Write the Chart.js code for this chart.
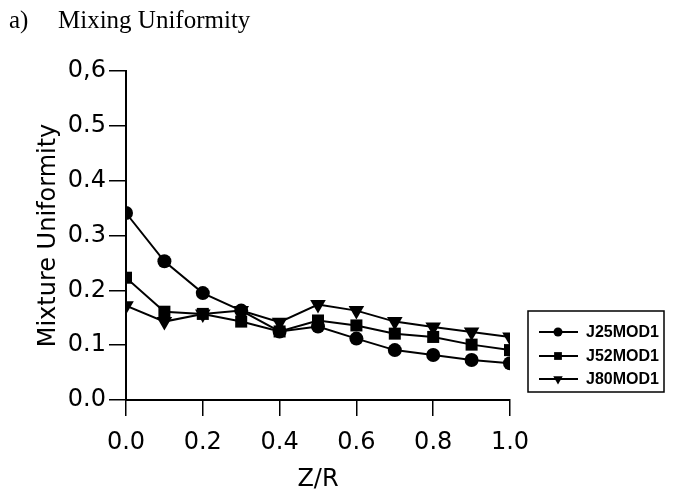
<!DOCTYPE html>
<html>
<head>
<meta charset="utf-8">
<script src="https://cdn.jsdelivr.net/npm/chart.js@4.4.1/dist/chart.umd.min.js"></script>
<style>
  body { margin: 0; background: #fff; }
  #wrap { width: 677px; height: 498px; position: relative; }
</style>
</head>
<body>
<div id="wrap"><canvas id="mixChart" width="677" height="498"></canvas></div>
<script>
// Z/R positions
const zr = [0.0, 0.1, 0.2, 0.3, 0.4, 0.5, 0.6, 0.7, 0.8, 0.9, 1.0];
// mixture uniformity per case
const j25 = [0.341, 0.253, 0.195, 0.163, 0.125, 0.134, 0.112, 0.091, 0.082, 0.073, 0.067];
const j52 = [0.223, 0.161, 0.157, 0.143, 0.125, 0.145, 0.136, 0.121, 0.115, 0.101, 0.091];
const j80 = [0.172, 0.143, 0.157, 0.163, 0.142, 0.174, 0.163, 0.143, 0.133, 0.124, 0.115];
const seriesNames = ["J25MOD1", "J52MOD1", "J80MOD1"];
const yTickLabels = ["0.0", "0.1", "0.2", "0.3", "0.4", "0.5", "0,6"];

const axisFont = { family: "'DejaVu Sans', sans-serif", size: 24 };

function pts(ys) {
  return zr.map((x, i) => ({ x: x, y: ys[i] }));
}

// title and boxed legend drawn on the canvas
const extras = {
  id: "extras",
  afterDraw(chart) {
    const ctx = chart.ctx;
    ctx.save();
    ctx.fillStyle = "#000";
    ctx.textBaseline = "alphabetic";
    ctx.font = "25px 'Liberation Serif', 'Times New Roman', serif";
    ctx.fillText("a)", 9, 28);
    ctx.fillText("Mixing Uniformity", 58, 28);

    // legend box
    ctx.strokeStyle = "#000";
    ctx.lineWidth = 1.5;
    ctx.strokeRect(528, 311, 136, 81);
    const rows = [332, 356, 379];
    ctx.font = "bold 16px 'Liberation Sans', Arial, sans-serif";
    ctx.textBaseline = "middle";
    chart.data.datasets.forEach((ds, i) => {
      const y = rows[i];
      ctx.lineWidth = 2;
      ctx.beginPath();
      ctx.moveTo(539, y);
      ctx.lineTo(578, y);
      ctx.stroke();
      ctx.fillStyle = "#000";
      Chart.helpers.drawPoint(ctx, {
        pointStyle: ds.pointStyle,
        rotation: ds.pointRotation || 0,
        radius: ds.pointStyle === "circle" ? 4.5 : 5.5,
        borderWidth: 0
      }, 558, y);
      ctx.fillText(ds.label, 586, y + 1);
    });
    ctx.restore();
  }
};

new Chart(document.getElementById("mixChart"), {
  type: "line",
  data: {
    datasets: [
      {
        label: seriesNames[0],
        data: pts(j25),
        borderColor: "#000",
        backgroundColor: "#000",
        borderWidth: 2,
        pointStyle: "circle",
        pointRadius: 7,
        pointBorderWidth: 0
      },
      {
        label: seriesNames[1],
        data: pts(j52),
        borderColor: "#000",
        backgroundColor: "#000",
        borderWidth: 2,
        pointStyle: "rect",
        pointRadius: 8.5,
        pointBorderWidth: 0
      },
      {
        label: seriesNames[2],
        data: pts(j80),
        borderColor: "#000",
        backgroundColor: "#000",
        borderWidth: 2,
        pointStyle: "triangle",
        pointRotation: 180,
        pointRadius: 9,
        pointBorderWidth: 0
      }
    ]
  },
  options: {
    responsive: false,
    animation: false,
    layout: { padding: { top: 71, right: 167, left: 0, bottom: 0 } },
    plugins: {
      legend: { display: false },
      tooltip: { enabled: false }
    },
    scales: {
      x: {
        type: "linear",
        min: 0,
        max: 1,
        afterFit(scale) { scale.height = 98; },
        ticks: {
          stepSize: 0.2,
          color: "#000",
          font: axisFont,
          padding: 12,
          maxRotation: 0,
          callback: v => v.toFixed(1)
        },
        grid: { drawOnChartArea: false, drawTicks: true, tickLength: 16, color: "#000", lineWidth: 1.5 },
        border: { display: true, color: "#000", width: 2 },
        title: { display: true, text: "Z/R", color: "#000", font: axisFont, padding: { top: 0, bottom: 4 } }
      },
      y: {
        min: 0,
        max: 0.6,
        afterFit(scale) { scale.width = 126; },
        ticks: {
          stepSize: 0.1,
          color: "#000",
          font: axisFont,
          padding: 3,
          callback: (v) => yTickLabels[Math.round(v * 10)]
        },
        grid: { drawOnChartArea: false, drawTicks: true, tickLength: 17, color: "#000", lineWidth: 1.5 },
        border: { display: true, color: "#000", width: 2 },
        title: { display: true, text: "Mixture Uniformity", color: "#000", font: axisFont, padding: { top: 34, bottom: 0 } }
      }
    }
  },
  plugins: [extras]
});
</script>
</body>
</html>
